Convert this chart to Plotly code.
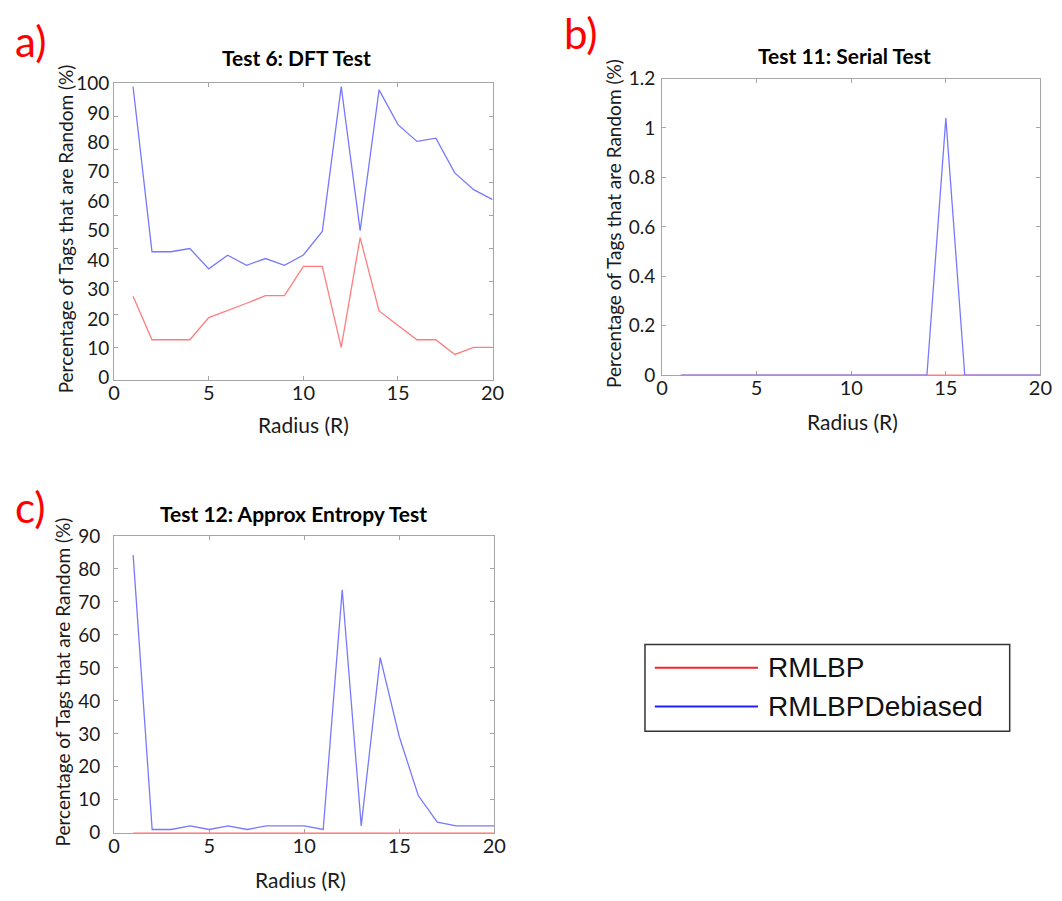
import plotly.graph_objects as go

W, H = 1062, 901

radius = list(range(1, 21))

# Panel a: Test 6 DFT Test
dft_rmlbp = [27.7, 12.9, 12.9, 12.9, 20.4, 22.8, 25.3, 27.9, 27.9, 37.8,
             37.8, 10.3, 47.6, 22.7, 17.8, 12.9, 12.9, 7.9, 10.3, 10.3]
dft_debiased = [98.9, 42.8, 42.8, 43.9, 37.0, 41.6, 38.2, 40.5, 38.2, 41.7,
                49.7, 98.9, 50.0, 97.8, 86.0, 80.3, 81.4, 69.6, 63.9, 60.5]

# Panel b: Test 11 Serial Test
serial_rmlbp = [0] * 20
serial_debiased = [0, 0, 0, 0, 0, 0, 0, 0, 0, 0,
                   0, 0, 0, 0, 1.04, 0, 0, 0, 0, 0]

# Panel c: Test 12 Approx Entropy Test
apen_rmlbp = [0] * 20
apen_debiased = [84.2, 1.0, 1.0, 2.1, 1.0, 2.1, 1.0, 2.1, 2.1, 2.1,
                 1.0, 73.7, 2.1, 53.1, 29.2, 11.3, 3.2, 2.1, 2.1, 2.1]

series_names = ["RMLBP", "RMLBPDebiased"]
titles = ["Test 6: DFT Test", "Test 11: Serial Test", "Test 12: Approx Entropy Test"]
panel_labels = ["a)", "b)", "c)"]
x_title = "Radius (R)"
y_title = "Percentage of Tags that are Random (%)"

RED = "rgb(255,125,125)"
BLUE = "rgb(120,120,255)"
AXC = "#a6a6a6"
TXT = "#1a1a1a"
FONT = "Lato"
YTICK_SIZE = 19
XTICK_SIZE = 20

def px(x):
    return x / W

def py(y):
    return 1 - y / H

fig = go.Figure()

panels = [
    ("x", "y", dft_rmlbp, dft_debiased),
    ("x2", "y2", serial_rmlbp, serial_debiased),
    ("x3", "y3", apen_rmlbp, apen_debiased),
]
for xa, ya, r, d in panels:
    fig.add_trace(go.Scatter(x=radius, y=r, mode="lines", name=series_names[0],
                             line=dict(color=RED, width=1.3), xaxis=xa, yaxis=ya,
                             showlegend=False))
    fig.add_trace(go.Scatter(x=radius, y=d, mode="lines", name=series_names[1],
                             line=dict(color=BLUE, width=1.3), xaxis=xa, yaxis=ya,
                             showlegend=False))

def xaxis_cfg(domain, anchor):
    return dict(domain=domain, anchor=anchor, range=[0, 20], tickvals=[0, 5, 10, 15, 20],
                ticks="inside", ticklen=4, tickcolor=AXC, showline=True, linecolor=AXC,
                linewidth=1, mirror="ticks", showgrid=False, zeroline=False,
                tickfont=dict(family=FONT, size=XTICK_SIZE, color=TXT), layer="below traces",
                ticklabelstandoff=-5)

def yaxis_cfg(domain, anchor, rng, tickvals, ticktext, standoff):
    return dict(domain=domain, anchor=anchor, range=rng, tickvals=tickvals, ticktext=ticktext,
                ticks="inside", ticklen=4, tickcolor=AXC, showline=True, linecolor=AXC,
                linewidth=1, mirror="ticks", showgrid=False, zeroline=False,
                tickfont=dict(family=FONT, size=YTICK_SIZE, color=TXT), layer="below traces",
                ticklabelstandoff=standoff)

ya_ticks = list(range(0, 101, 10))
yb_ticks = [0, 0.2, 0.4, 0.6, 0.8, 1.0, 1.2]
yc_ticks = list(range(0, 91, 10))

ya = yaxis_cfg([py(377.7), py(73.3)], "x", [-0.8, 100], ya_ticks, [str(v) for v in ya_ticks], 0)
ya["ticklen"] = 0
ya["minor"] = dict(tick0=-0.8, dtick=100.8 / 9, ticks="inside", ticklen=4, tickcolor=AXC)

fig.update_layout(
    width=W, height=H, margin=dict(l=0, r=0, t=0, b=0),
    paper_bgcolor="white", plot_bgcolor="white", showlegend=False,
    xaxis=xaxis_cfg([px(110), px(495)], "y"),
    yaxis=ya,
    xaxis2=xaxis_cfg([px(667.3), px(1052.3)], "y2"),
    yaxis2=yaxis_cfg([py(372.7), py(68.3)], "x2", [0, 1.2], yb_ticks,
                     ["0", "0.2", "0.4", "0.6", "0.8", "1", "1.2"], 2),
    xaxis3=xaxis_cfg([px(110), px(496.7)], "y3"),
    yaxis3=yaxis_cfg([py(842.3), py(537.7)], "x3", [0, 90], yc_ticks,
                     [str(v) for v in yc_ticks], 9),
)

ann = []
# Panel labels
for lab, (x, y) in zip(panel_labels, [(7, 30), (566, 22), (7, 508)]):
    ann.append(dict(text=lab, x=px(x), y=py(y), xref="paper", yref="paper",
                    xanchor="left", yanchor="middle", showarrow=False,
                    font=dict(family=FONT, size=42, color="#ff0000")))
# Titles
for t, (x, y) in zip(titles, [(296, 47), (853, 45), (292.5, 515)]):
    ann.append(dict(text="<b>" + t + "</b>", x=px(x), y=py(y), xref="paper", yref="paper",
                    xanchor="center", yanchor="middle", showarrow=False,
                    font=dict(family=FONT, size=21, color="#000000")))
# Axis titles
for (x, y) in [(303, 423), (861, 420), (300, 890)]:
    ann.append(dict(text=x_title, x=px(x), y=py(y), xref="paper", yref="paper",
                    xanchor="center", yanchor="middle", showarrow=False,
                    font=dict(family=FONT, size=21, color=TXT)))
for (x, y) in [(60, 222), (618, 217), (57, 688)]:
    ann.append(dict(text=y_title, x=px(x), y=py(y), xref="paper", yref="paper",
                    xanchor="center", yanchor="middle", showarrow=False, textangle=-90,
                    font=dict(family=FONT, size=19, color=TXT)))

# Legend box
shapes = [dict(type="rect", xref="paper", yref="paper", x0=px(650), x1=px(1021),
               y0=py(738), y1=py(649), line=dict(color="#333333", width=1.5),
               fillcolor="white")]
for (yy, col) in [(673, "#ff2020"), (712.7, "#2020ff")]:
    shapes.append(dict(type="line", xref="paper", yref="paper", x0=px(660), x1=px(765),
                       y0=py(yy), y1=py(yy), line=dict(color=col, width=2)))
for name, yy in zip(series_names, [673, 712.7]):
    ann.append(dict(text=name, x=px(773), y=py(yy), xref="paper", yref="paper",
                    xanchor="left", yanchor="middle", showarrow=False,
                    font=dict(family="Liberation Sans", size=28, color="#111111")))

fig.update_layout(annotations=ann, shapes=shapes)
fig.write_html("out.html")
